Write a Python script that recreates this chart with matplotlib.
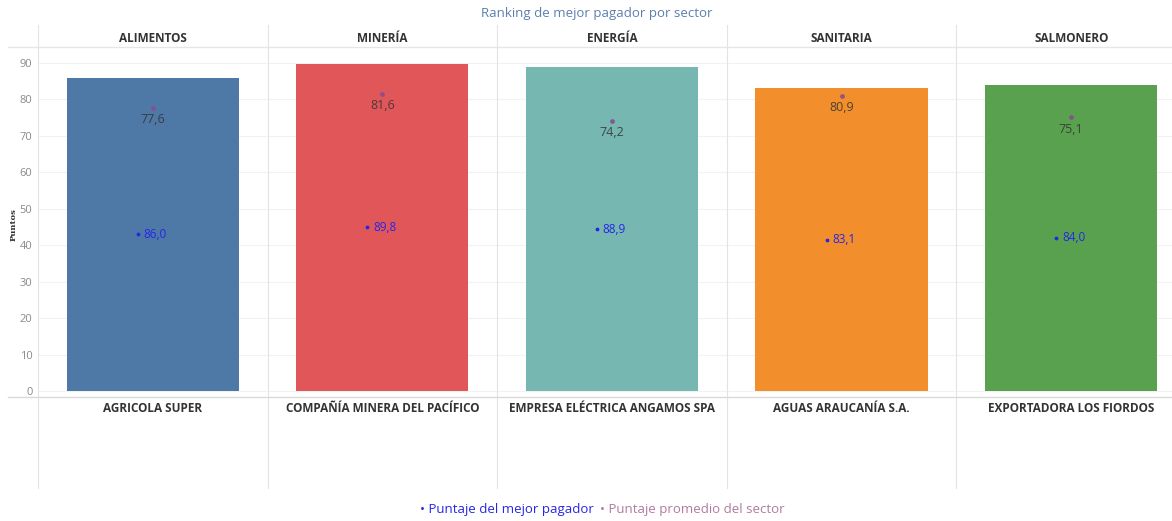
import numpy as np
import matplotlib.pyplot as plt
from matplotlib.transforms import blended_transform_factory

# data
sectores = ["ALIMENTOS", "MINERÍA", "ENERGÍA", "SANITARIA", "SALMONERO"]
empresas = ["AGRICOLA SUPER", "COMPAÑÍA MINERA DEL PACÍFICO",
            "EMPRESA ELÉCTRICA ANGAMOS SPA", "AGUAS ARAUCANÍA S.A.",
            "EXPORTADORA LOS FIORDOS"]
mejor_pagador = [86.0, 89.8, 88.9, 83.1, 84.0]
promedio_sector = [77.6, 81.6, 74.2, 80.9, 75.1]
colores = ["#4e79a7", "#e15759", "#76b7b2", "#f28e2b", "#59a14f"]
yticks = [0, 10, 20, 30, 40, 50, 60, 70, 80, 90]

plt.rcParams['font.family'] = ['Open Sans', 'DejaVu Sans']

W, H = 1172, 521
fig = plt.figure(figsize=(W / 100, H / 100), dpi=100)

# axes in pixel coords
left, right, top, bottom = 38, 1172, 47, 397
ax = fig.add_axes([left / W, 1 - bottom / H, (right - left) / W, (bottom - top) / H])
panel = 229.6
ax.set_xlim(-0.5, -0.5 + (right - left) / panel)
y0 = 391.0
ppu = (391.0 - 63.0) / 90.0
ax.set_ylim(-(bottom - y0) / ppu, (y0 - top) / ppu)

for s in ax.spines.values():
    s.set_visible(False)
ax.set_yticks(yticks)
ax.set_xticks([])
ax.tick_params(axis='y', length=0, labelsize=8, labelcolor='#8a8a8a', pad=4)
for t in yticks:
    ax.axhline(t, color='#f2f2f2', lw=0.8, zorder=0)

x = np.arange(len(sectores))
ax.bar(x, mejor_pagador, width=0.75, color=colores, zorder=2)

# best payer dots and labels at half height
for i, v in enumerate(mejor_pagador):
    ax.scatter([i - 0.065], [v / 2], s=3, color='#2626e6', zorder=3)
    ax.text(i - 0.04, v / 2, f"{v:.1f}".replace('.', ','), color='#2626e6',
            fontsize=8.5, va='center', ha='left', zorder=3)

# sector average dots and labels
for i, v in enumerate(promedio_sector):
    ax.scatter([i], [v], s=6, color='#8a4d8f', alpha=0.85, zorder=3)
    ax.annotate(f"{v:.1f}".replace('.', ','), (i, v), xytext=(0, -8.5),
                textcoords='offset points', ha='center', va='center',
                fontsize=9, color='#333333', alpha=0.85, zorder=3)

# panel separators and header/footer lines
tr = blended_transform_factory(ax.transData, fig.transFigure)
for i in range(len(sectores)):
    xs = i - 0.5
    fig.add_artist(plt.Line2D([xs, xs], [1 - 25 / H, 1 - 488 / H], transform=tr,
                              color='#e3e3e3', lw=0.8))
fig.add_artist(plt.Line2D([8 / W, 1], [1 - 47 / H] * 2, color='#e6e6e6', lw=1))
fig.add_artist(plt.Line2D([8 / W, 1], [1 - 397 / H] * 2, color='#d9d9d9', lw=1))

for i, (s, e) in enumerate(zip(sectores, empresas)):
    fig.text(i, 1 - 38 / H, s, transform=tr, ha='center', va='center',
             fontsize=8.5, fontweight='bold', color='#333333')
    fig.text(i, 1 - 409 / H, e, transform=tr, ha='center', va='center',
             fontsize=8.5, fontweight='bold', color='#333333')

fig.text(597 / W, 1 - 13 / H, "Ranking de mejor pagador por sector",
         ha='center', va='center', fontsize=9.5, color='#5b7fae')
fig.text(14 / W, 1 - 225 / H, "Puntos", rotation=90, ha='center', va='center',
         fontsize=6, fontweight='bold', family='DejaVu Serif', color='#333333')

# legend
fig.text(594 / W, 1 - 510 / H, "• Puntaje del mejor pagador", ha='right',
         va='center', fontsize=9.5, color='#2626e6')
fig.text(600 / W, 1 - 510 / H, "• Puntaje promedio del sector", ha='left',
         va='center', fontsize=9.5, color='#b07aa1')

fig.savefig("out.png", dpi=100)
